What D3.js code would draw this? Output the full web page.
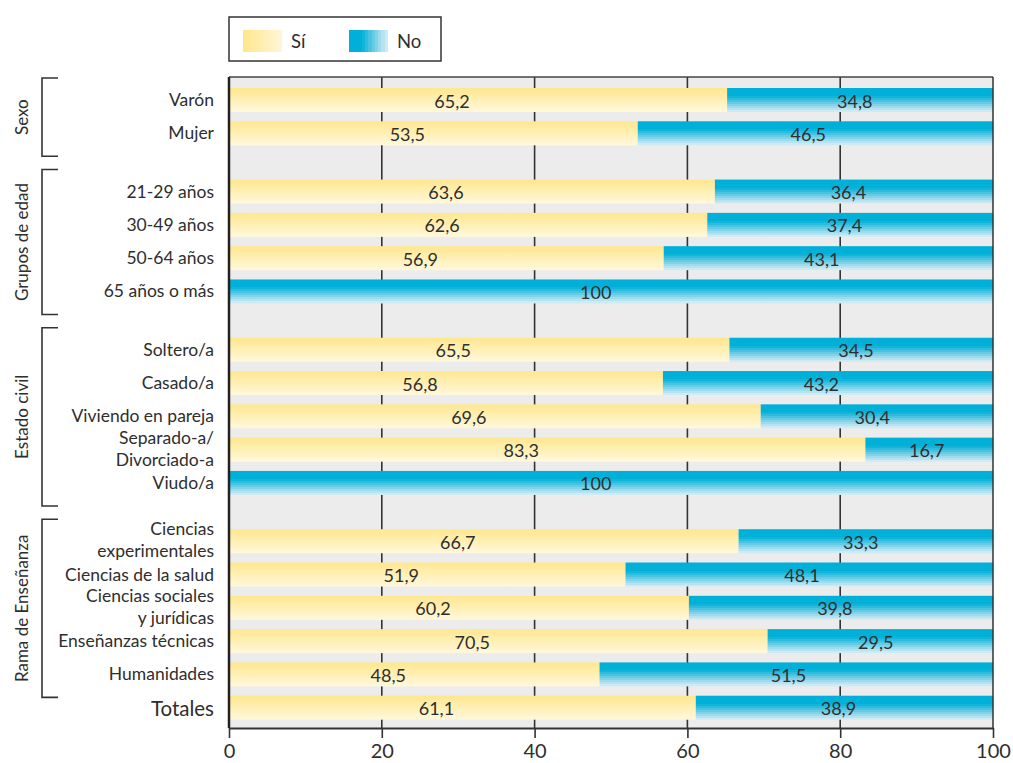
<!DOCTYPE html>
<html><head><meta charset="utf-8">
<script src="https://cdn.jsdelivr.net/npm/d3@7/dist/d3.min.js"></script>
<style>
body{margin:0;background:#fff;}
text{font-family:Lato,"Noto Sans",sans-serif;fill:#2e2e2e;font-weight:400;}
</style></head>
<body><svg id="c" width="1013" height="763"></svg>
<script>
// ---- data ----
const categories = ["Varón","Mujer","21-29 años","30-49 años","50-64 años","65 años o más",
  "Soltero/a","Casado/a","Viviendo en pareja","Separado-a/\nDivorciado-a","Viudo/a",
  "Ciencias\nexperimentales","Ciencias de la salud","Ciencias sociales\ny jurídicas",
  "Enseñanzas técnicas","Humanidades","Totales"];
const categoryGroup = ["Sexo","Sexo","Grupos de edad","Grupos de edad","Grupos de edad","Grupos de edad",
  "Estado civil","Estado civil","Estado civil","Estado civil","Estado civil",
  "Rama de Enseñanza","Rama de Enseñanza","Rama de Enseñanza","Rama de Enseñanza","Rama de Enseñanza","Totales"];
const groups = ["Sexo","Grupos de edad","Estado civil","Rama de Enseñanza"];
const siValues = [65.2,53.5,63.6,62.6,56.9,0,65.5,56.8,69.6,83.3,0,66.7,51.9,60.2,70.5,48.5,61.1];
const noValues = [34.8,46.5,36.4,37.4,43.1,100,34.5,43.2,30.4,16.7,100,33.3,48.1,39.8,29.5,51.5,38.9];
const seriesNames = ["Sí","No"];
const xTicks = [0,20,40,60,80,100];

// ---- layout ----
const svg = d3.select("#c");
const L = 229, R = 993, T = 77, B = 728;
const x = d3.scaleLinear().domain([0,100]).range([L,R]);
const gapSlots = 0.75;
const slots = [];
let s = 0;
categories.forEach((c,i)=>{
  if(i>0){
    s += 1;
    const g0 = categoryGroup[i-1], g1 = categoryGroup[i];
    if(g0!==g1 && g1!=="Totales") s += gapSlots;
  }
  slots.push(s);
});
const y = d3.scaleLinear().domain([0, slots[slots.length-1]]).range([100, 707.7]);
const barH = 24;

const defs = svg.append("defs");
const gY = defs.append("linearGradient").attr("id","gy").attr("x1",0).attr("x2",0).attr("y1",0).attr("y2",1);
gY.append("stop").attr("offset","0").attr("stop-color","#ffe78e");
gY.append("stop").attr("offset","1").attr("stop-color","#fff8dc");
const blueSteps = ["#00b0d8","#00b0d8","#00b0d8","#00b0d8","#12b5da","#2dbcde","#4ac3e1","#66cbe5","#82d3e9","#9ddbed","#b6e3f1","#cdebf5"];
function stepGrad(id, horiz){
  const g = defs.append("linearGradient").attr("id",id)
    .attr("x1",0).attr("y1",0).attr("x2",horiz?1:0).attr("y2",horiz?0:1);
  const n = blueSteps.length;
  blueSteps.forEach((c,i)=>{
    g.append("stop").attr("offset",i/n).attr("stop-color",c);
    g.append("stop").attr("offset",(i+1)/n).attr("stop-color",c);
  });
}
stepGrad("gb",false); stepGrad("gbh",true);
const gYh = defs.append("linearGradient").attr("id","gyh").attr("x1",0).attr("x2",1).attr("y1",0).attr("y2",0);
gYh.append("stop").attr("offset","0").attr("stop-color","#ffe68a");
gYh.append("stop").attr("offset","1").attr("stop-color","#fff6d8");

// background
svg.append("rect").attr("x",L).attr("y",T).attr("width",R-L).attr("height",B-T).attr("fill","#ececec");
// gridlines
svg.append("g").selectAll("line").data(xTicks.filter(d=>d>0&&d<100)).join("line")
  .attr("x1",d=>x(d)).attr("x2",d=>x(d)).attr("y1",T).attr("y2",B)
  .attr("stroke","#333").attr("stroke-width",1.6);

// bars
const rows = categories.map((c,i)=>({c, i, si: siValues[i], no: noValues[i], yc: y(slots[i])}));
const bars = svg.append("g");
bars.selectAll(".si").data(rows.filter(d=>d.si>0)).join("rect")
  .attr("x",x(0)).attr("y",d=>d.yc-barH/2).attr("width",d=>x(d.si)-x(0)).attr("height",barH)
  .attr("fill","url(#gy)");
bars.selectAll(".no").data(rows).join("rect")
  .attr("x",d=>x(d.si)).attr("y",d=>d.yc-barH/2).attr("width",d=>x(d.si+d.no)-x(d.si)).attr("height",barH)
  .attr("fill","url(#gb)");

const fmt = v => (v%1===0) ? String(v) : v.toFixed(1).replace(".",",");
const lbl = svg.append("g").attr("font-size",18).attr("text-anchor","middle");
lbl.selectAll(".ls").data(rows.filter(d=>d.si>0)).join("text")
  .attr("x",d=>x(d.si/2)-26).attr("y",d=>d.yc+7.5).text(d=>fmt(d.si));
lbl.selectAll(".ln").data(rows).join("text")
  .attr("x",d=>x(d.si+d.no*0.48)).attr("y",d=>d.yc+7.5).text(d=>fmt(d.no));

// frame
svg.append("line").attr("x1",L).attr("x2",R).attr("y1",T).attr("y2",T).attr("stroke","#444").attr("stroke-width",1.5);
svg.append("line").attr("x1",R).attr("x2",R).attr("y1",T).attr("y2",B).attr("stroke","#333").attr("stroke-width",1.5);
svg.append("line").attr("x1",L).attr("x2",L).attr("y1",T).attr("y2",B).attr("stroke","#222").attr("stroke-width",2.5);

// x axis
const ax = svg.append("g").attr("transform",`translate(0,${B})`)
  .call(d3.axisBottom(x).tickValues(xTicks).tickSize(10).tickSizeOuter(0).tickPadding(6).tickFormat(d=>String(d)));
ax.select(".domain").attr("stroke","#333").attr("stroke-width",2);
ax.selectAll(".tick line").attr("stroke","#333").attr("stroke-width",1.6);
ax.selectAll(".tick text").attr("font-size",20).attr("font-family","Lato,'Noto Sans',sans-serif")
  .attr("font-weight",300).attr("fill","#2e2e2e").attr("dy","0.72em");

// category labels
const cl = svg.append("g").attr("text-anchor","end");
rows.forEach(d=>{
  const lines = d.c.split("\n");
  const isTot = d.c==="Totales";
  const t = cl.append("text").attr("font-size",isTot?20.5:17.5);
  if(lines.length===1){
    t.append("tspan").attr("x",214).attr("y",d.yc+(isTot?8:6)).text(lines[0]);
  } else {
    t.append("tspan").attr("x",214).attr("y",d.yc-6).text(lines[0]);
    t.append("tspan").attr("x",214).attr("y",d.yc+16).text(lines[1]);
  }
});

// group brackets
const br = svg.append("g");
groups.forEach(g=>{
  const idx = rows.filter(r=>categoryGroup[r.i]===g);
  const y0 = idx[0].yc-22, y1 = idx[idx.length-1].yc+23;
  br.append("path").attr("d",`M58,${y0}H42V${y1}H58`).attr("fill","none").attr("stroke","#333").attr("stroke-width",1.6);
  br.append("text").attr("transform",`translate(28,${(y0+y1)/2}) rotate(-90)`)
    .attr("text-anchor","middle").attr("font-size",17).text(g);
});

// legend
const lg = svg.append("g");
lg.append("rect").attr("x",229).attr("y",17).attr("width",212).attr("height",44).attr("fill","#fff").attr("stroke","#333").attr("stroke-width",1.5);
const legFills = ["url(#gyh)","url(#gbh)"];
const legX = [243,349];
seriesNames.forEach((n,i)=>{
  lg.append("rect").attr("x",legX[i]).attr("y",30).attr("width",39).attr("height",22).attr("fill",legFills[i]);
  lg.append("text").attr("x",legX[i]+48).attr("y",48).attr("font-size",18.5).text(n);
});
</script></body></html>
